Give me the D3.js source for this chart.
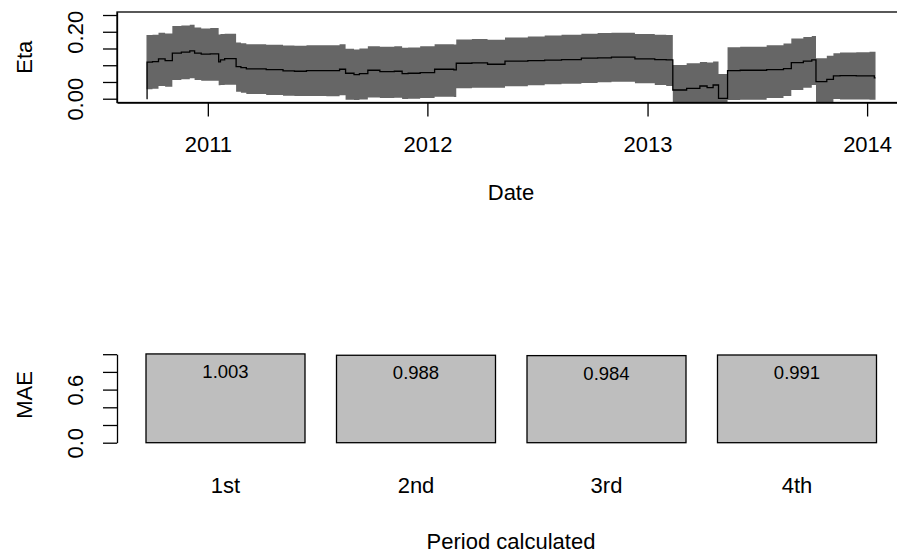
<!DOCTYPE html>
<html>
<head>
<meta charset="utf-8">
<script src="https://cdn.jsdelivr.net/npm/d3@7"></script>
<style>
  body { margin: 0; background: #fff; }
  text { font-family: "Liberation Sans", Arial, sans-serif; fill: #000; }
</style>
</head>
<body>
<div class="canvas"></div>
<script>
// eta estimate with its band (step series)
const dates = ['2010-09-21','2010-09-22','2010-10-01','2010-10-11','2010-10-22','2010-11-03','2010-11-18','2010-12-02',
  '2010-12-10','2010-12-21','2011-01-05','2011-01-19','2011-01-22','2011-01-29','2011-02-17','2011-02-25',
  '2011-03-06','2011-04-08','2011-05-06','2011-05-25','2011-06-14','2011-07-17','2011-08-08','2011-08-18',
  '2011-09-01','2011-09-10','2011-09-24','2011-10-14','2011-11-07','2011-11-20','2011-11-30','2011-12-20',
  '2012-01-13','2012-02-14','2012-02-18','2012-03-15','2012-04-10','2012-05-09','2012-06-16','2012-07-14',
  '2012-08-11','2012-09-13','2012-10-10','2012-11-02','2012-12-11','2013-01-13','2013-02-01','2013-02-12',
  '2013-03-07','2013-03-29','2013-04-10','2013-04-20','2013-04-29','2013-05-14','2013-06-04','2013-07-18',
  '2013-08-15','2013-08-28','2013-09-17','2013-10-01','2013-10-08','2013-10-26','2013-11-06','2013-11-17',
  '2013-12-14','2014-01-05','2014-01-13','2014-01-15']
const eta = [0.000,0.109,0.111,0.119,0.114,0.136,0.139,0.143,
  0.136,0.133,0.134,0.110,0.116,0.120,0.096,0.093,
  0.089,0.087,0.083,0.082,0.084,0.084,0.088,0.076,
  0.072,0.075,0.085,0.081,0.082,0.075,0.076,0.078,
  0.088,0.086,0.106,0.107,0.103,0.112,0.114,0.115,
  0.117,0.121,0.122,0.124,0.119,0.117,0.116,0.026,
  0.031,0.038,0.033,0.041,0.001,0.084,0.085,0.087,
  0.090,0.108,0.112,0.116,0.051,0.058,0.068,0.069,
  0.068,0.068,0.062,0.062]
const etaLower = [0.028,0.028,0.030,0.038,0.036,0.056,0.058,0.061,
  0.056,0.054,0.054,0.040,0.041,0.042,0.021,0.018,
  0.014,0.011,0.009,0.008,0.008,0.007,0.010,-0.003,
  -0.004,-0.002,0.004,0.002,0.003,-0.001,0.000,0.002,
  0.006,0.005,0.031,0.033,0.033,0.037,0.040,0.043,
  0.045,0.047,0.049,0.051,0.046,0.041,0.038,-0.030,
  -0.030,-0.030,-0.030,-0.030,-0.030,-0.004,-0.003,0.002,
  0.008,0.026,0.033,0.041,-0.030,-0.030,-0.001,-0.002,
  -0.002,-0.003,-0.003,-0.003]
const etaUpper = [0.190,0.190,0.191,0.197,0.195,0.217,0.219,0.221,
  0.213,0.210,0.211,0.192,0.193,0.194,0.168,0.166,
  0.163,0.161,0.159,0.158,0.160,0.160,0.163,0.149,
  0.147,0.150,0.157,0.155,0.157,0.152,0.153,0.157,
  0.163,0.162,0.177,0.178,0.176,0.183,0.186,0.189,
  0.191,0.194,0.196,0.197,0.193,0.191,0.190,0.101,
  0.106,0.110,0.108,0.111,0.074,0.154,0.155,0.160,
  0.165,0.180,0.184,0.187,0.121,0.128,0.136,0.138,
  0.139,0.140,0.140,0.140]

const yearTicks = ['2011-01-01','2012-01-01','2013-01-01','2014-01-01']
const etaTicks = [0, 0.05, 0.10, 0.15, 0.20, 0.25]
const etaLabels = [0, 0.20]

// MAE per period
const periods = ['1st', '2nd', '3rd', '4th']
const mae = [1.003, 0.988, 0.984, 0.991]
const maeTicks = [0, 0.2, 0.4, 0.6, 0.8, 1.0]
const maeLabels = [0, 0.6]

document.addEventListener('DOMContentLoaded', function() {
    const dims = {width: 897, height: 553}
    const parse = d3.timeParse('%Y-%m-%d')

    const svg = d3.select('.canvas').append('svg')
    .attr('width', dims.width)
    .attr('height', dims.height)

    const series = dates.map((d, i) => ({date: parse(d), eta: eta[i], lo: etaLower[i], hi: etaUpper[i]}))

    // ---- top panel: eta over time
    const top = {left: 117, right: 905, top: 12, bottom: 102.5}

    const x = d3.scaleTime()
    .domain([parse('2010-08-03'), parse('2014-03-05')])
    .range([top.left, top.right])

    const y = d3.scaleLinear()
    .domain([-0.0113, 0.259])
    .range([top.bottom, top.top])

    svg.append('clipPath').attr('id', 'topclip')
    .append('rect')
    .attr('x', top.left).attr('y', top.top)
    .attr('width', top.right - top.left).attr('height', top.bottom - top.top)

    const plot = svg.append('g').attr('clip-path', 'url(#topclip)')

    plot.append('path')
    .datum(series)
    .attr('fill', '#666666')
    .attr('d', d3.area().curve(d3.curveStepAfter).x(d => x(d.date)).y0(d => y(d.lo)).y1(d => y(d.hi)))

    plot.append('path')
    .datum(series)
    .attr('fill', 'none')
    .attr('stroke', '#000')
    .attr('stroke-width', 1.3)
    .attr('d', d3.line().curve(d3.curveStepAfter).x(d => x(d.date)).y(d => y(d.eta)))

    // box round the plot
    svg.append('rect')
    .attr('x', top.left).attr('y', top.top)
    .attr('width', top.right - top.left).attr('height', top.bottom - top.top)
    .attr('fill', 'none').attr('stroke', '#000').attr('stroke-width', 1.3)

    const xAxis = svg.append('g')
    .attr('transform', `translate(0,${top.bottom})`)
    .call(d3.axisBottom(x).tickValues(yearTicks.map(parse)).tickFormat(d3.timeFormat('%Y')).tickSize(14).tickSizeOuter(0))
    xAxis.selectAll('text').attr('font-size', 22).attr('dy', null).attr('y', 49)

    const yAxis = svg.append('g')
    .attr('transform', `translate(${top.left},0)`)
    .call(d3.axisLeft(y).tickValues(etaTicks).tickFormat(d => etaLabels.includes(d) ? d3.format('.2f')(d) : '').tickSize(14).tickSizeOuter(0))

    // R style rotated tick labels
    yAxis.selectAll('text')
    .attr('font-size', 22)
    .attr('x', null).attr('dy', null)
    .attr('text-anchor', 'middle')
    .attr('transform', 'translate(-34,0) rotate(-90)')

    svg.append('text')
    .attr('x', (top.left + top.right) / 2).attr('y', 200)
    .attr('text-anchor', 'middle').attr('font-size', 22)
    .text('Date')

    svg.append('text')
    .attr('transform', `translate(32,${(top.top + top.bottom) / 2}) rotate(-90)`)
    .attr('text-anchor', 'middle').attr('font-size', 22)
    .text('Eta')

    // ---- bottom panel: MAE bars
    const xb = d3.scaleBand()
    .domain(periods)
    .range([146, 146 + 4 * 190.5 - 31.5])
    .paddingInner(31.5 / 190.5)
    .paddingOuter(0)

    const yb = d3.scaleLinear()
    .domain([0, 1])
    .range([442.7, 354.2])

    const bars = svg.append('g').selectAll('.bar').data(periods).enter()
    .append('g').attr('class', 'bar')

    bars.append('rect')
    .attr('x', d => xb(d))
    .attr('y', (d, i) => yb(mae[i]))
    .attr('width', xb.bandwidth())
    .attr('height', (d, i) => yb(0) - yb(mae[i]))
    .attr('fill', '#bebebe')
    .attr('stroke', '#000')
    .attr('stroke-width', 1.3)

    bars.append('text')
    .attr('x', d => xb(d) + xb.bandwidth() / 2)
    .attr('y', (d, i) => yb(mae[i]) + 24)
    .attr('text-anchor', 'middle')
    .attr('font-size', 18.5)
    .text((d, i) => d3.format('.3f')(mae[i]))

    bars.append('text')
    .attr('x', d => xb(d) + xb.bandwidth() / 2)
    .attr('y', 493)
    .attr('text-anchor', 'middle')
    .attr('font-size', 22)
    .text(d => d)

    const ybAxis = svg.append('g')
    .attr('transform', `translate(${top.left},0)`)
    .call(d3.axisLeft(yb).tickValues(maeTicks).tickFormat(d => maeLabels.includes(d) ? d3.format('.1f')(d) : '').tickSize(14).tickSizeOuter(0))

    ybAxis.selectAll('text')
    .attr('font-size', 22)
    .attr('x', null).attr('dy', null)
    .attr('text-anchor', 'middle')
    .attr('transform', 'translate(-34,0) rotate(-90)')

    svg.selectAll('.domain').attr('stroke-width', 1.3)
    svg.selectAll('.tick line').attr('stroke-width', 1.3)

    svg.append('text')
    .attr('x', (top.left + top.right) / 2).attr('y', 549)
    .attr('text-anchor', 'middle').attr('font-size', 22)
    .text('Period calculated')

    svg.append('text')
    .attr('transform', 'translate(32,395) rotate(-90)')
    .attr('text-anchor', 'middle').attr('font-size', 22)
    .text('MAE')
})
</script>
</body>
</html>
